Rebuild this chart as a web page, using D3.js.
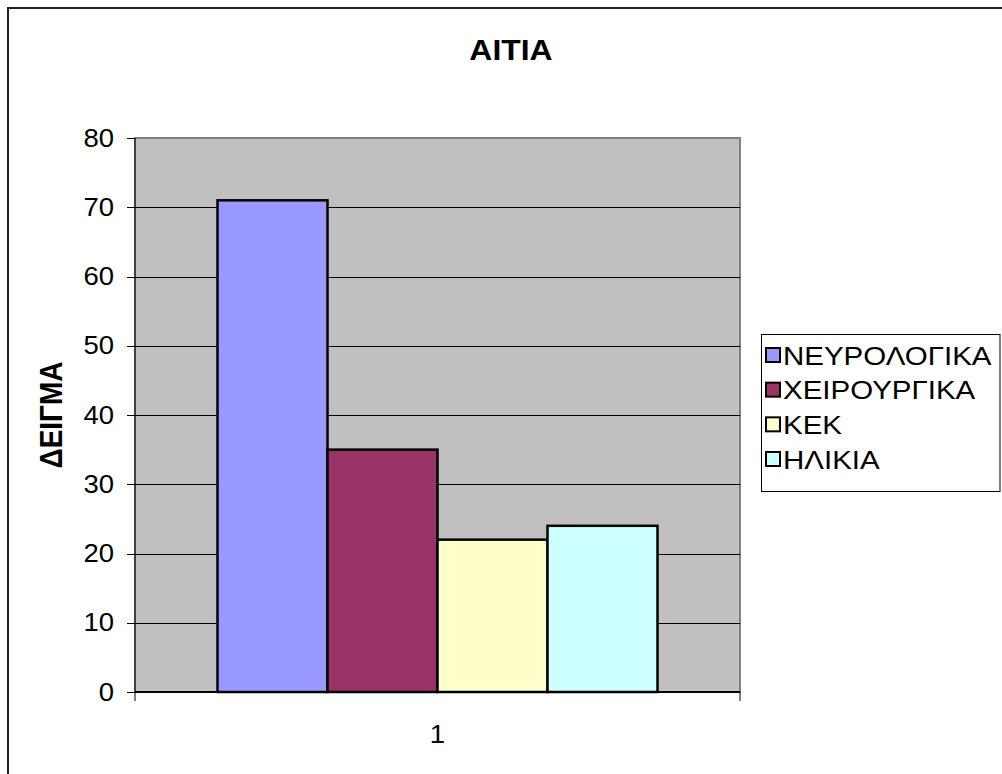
<!DOCTYPE html>
<html>
<head>
<meta charset="utf-8">
<script src="https://cdn.jsdelivr.net/npm/d3@7"></script>
<style>
  html, body { margin: 0; padding: 0; background: #fff; }
  svg { display: block; }
  text { font-family: "Liberation Sans", Arial, sans-serif; fill: #000; }
</style>
</head>
<body>
<svg id="chart" width="1002" height="774"></svg>
<script>
// Chart data
const title = "ΑΙΤΙΑ";
const yTitle = "ΔΕΙΓΜΑ";
const categories = ["1"];
const seriesNames = ["ΝΕΥΡΟΛΟΓΙΚΑ", "ΧΕΙΡΟΥΡΓΙΚΑ", "ΚΕΚ", "ΗΛΙΚΙΑ"];
const seriesValues = [71, 35, 22, 24];
const seriesColors = ["#9999FF", "#993366", "#FFFFCC", "#CCFFFF"];
const yTicks = [0, 10, 20, 30, 40, 50, 60, 70, 80];

const svg = d3.select("#chart");

// Horizontal stretch applied to text glyphs
function placeText(sel, x, y, sx) {
  sel.attr("transform", `translate(${x},${y}) scale(${sx},1)`);
  return sel;
}

// Chart frame
svg.append("rect")
  .attr("x", 8).attr("y", 8)
  .attr("width", 1100).attr("height", 1000)
  .attr("fill", "#fff")
  .attr("stroke", "#222").attr("stroke-width", 2);

// Plot area geometry
const plot = { left: 135, top: 138, right: 740, bottom: 692 };

const y = d3.scaleLinear().domain([0, 80]).range([plot.bottom, plot.top]);
const x0 = d3.scaleBand().domain(categories).range([plot.left, plot.right]).padding(0);
const x1 = d3.scaleBand().domain(seriesNames).range([0, x0.bandwidth()])
  .paddingInner(0).paddingOuter(0.75);

// Plot background
svg.append("rect")
  .attr("x", plot.left).attr("y", plot.top)
  .attr("width", plot.right - plot.left).attr("height", plot.bottom - plot.top)
  .attr("fill", "#C0C0C0")
  .attr("stroke", "#808080").attr("stroke-width", 2);

// Gridlines
svg.append("g")
  .selectAll("line")
  .data(yTicks.filter(d => d > 0 && d < 80))
  .join("line")
  .attr("x1", plot.left).attr("x2", plot.right)
  .attr("y1", d => Math.round(y(d)) + 0.5).attr("y2", d => Math.round(y(d)) + 0.5)
  .attr("stroke", "#000").attr("stroke-width", 1);

// Bars
svg.append("g")
  .selectAll("rect")
  .data(seriesNames.map((s, i) => ({ s, v: seriesValues[i], c: seriesColors[i] })))
  .join("rect")
  .attr("x", d => x0(categories[0]) + x1(d.s))
  .attr("y", d => y(d.v))
  .attr("width", x1.bandwidth())
  .attr("height", d => plot.bottom - y(d.v))
  .attr("fill", d => d.c)
  .attr("stroke", "#000").attr("stroke-width", 2.5);

// Y axis
const yAxis = svg.append("g");
yAxis.append("line")
  .attr("x1", plot.left).attr("x2", plot.left)
  .attr("y1", plot.top).attr("y2", plot.bottom)
  .attr("stroke", "#000").attr("stroke-width", 1);
yAxis.selectAll("line.tick")
  .data(yTicks)
  .join("line")
  .attr("class", "tick")
  .attr("x1", plot.left - 8).attr("x2", plot.left)
  .attr("y1", d => Math.round(y(d)) + 0.5).attr("y2", d => Math.round(y(d)) + 0.5)
  .attr("stroke", "#000").attr("stroke-width", 1);
yAxis.selectAll("text")
  .data(yTicks)
  .join("text")
  .attr("text-anchor", "end")
  .attr("dominant-baseline", "central")
  .style("font-size", "25px")
  .text(d => d)
  .each(function (d) { placeText(d3.select(this), 114, y(d), 1.1); });

// X axis
const xAxis = svg.append("g");
xAxis.append("line")
  .attr("x1", plot.left).attr("x2", plot.right)
  .attr("y1", plot.bottom).attr("y2", plot.bottom)
  .attr("stroke", "#000").attr("stroke-width", 2);
xAxis.selectAll("line.tick")
  .data([plot.left, plot.right])
  .join("line")
  .attr("class", "tick")
  .attr("x1", d => d).attr("x2", d => d)
  .attr("y1", plot.bottom).attr("y2", plot.bottom + 9)
  .attr("stroke", "#000").attr("stroke-width", 1);
xAxis.selectAll("text")
  .data(categories)
  .join("text")
  .attr("text-anchor", "middle")
  .attr("dominant-baseline", "central")
  .style("font-size", "25px")
  .text(d => d)
  .each(function (d) { placeText(d3.select(this), x0(d) + x0.bandwidth() / 2, 734, 1.1); });

// Title
placeText(svg.append("text")
  .attr("text-anchor", "middle")
  .style("font-size", "29px")
  .style("font-weight", "bold")
  .text(title), 511, 60, 1.1);

// Y axis title
svg.append("text")
  .attr("text-anchor", "middle")
  .attr("transform", "translate(62,415) rotate(-90) scale(1,1.1)")
  .style("font-size", "28px")
  .style("font-weight", "bold")
  .text(yTitle);

// Legend
const legend = svg.append("g");
legend.append("rect")
  .attr("x", 761.5).attr("y", 334.5)
  .attr("width", 238.5).attr("height", 157)
  .attr("fill", "#fff")
  .attr("stroke", "#000").attr("stroke-width", 1);
const rowY = d3.scalePoint().domain(seriesNames).range([355, 459]);
const items = legend.selectAll("g.item")
  .data(seriesNames.map((s, i) => ({ s, c: seriesColors[i] })))
  .join("g").attr("class", "item");
items.append("rect")
  .attr("x", 766).attr("y", d => rowY(d.s) - 7)
  .attr("width", 14).attr("height", 14)
  .attr("fill", d => d.c)
  .attr("stroke", "#000").attr("stroke-width", 2);
items.append("text")
  .attr("dominant-baseline", "central")
  .style("font-size", "25px")
  .text(d => d.s)
  .each(function (d) { placeText(d3.select(this), 783, rowY(d.s) + 1, 1.18); });
</script>
</body>
</html>
